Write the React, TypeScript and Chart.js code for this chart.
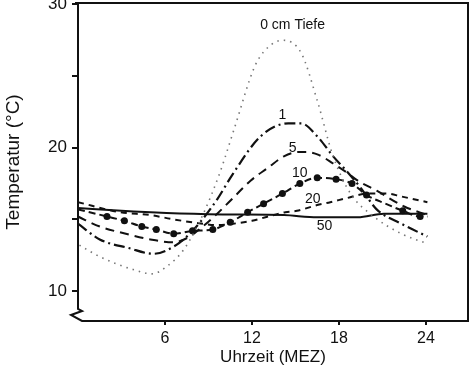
import React, { useEffect, useRef } from "react";
import { Chart, registerables } from "chart.js";

Chart.register(...registerables);

// Hours (MEZ) and temperatures (°C) per depth
const h0 = [0.1, 1.5, 3.8, 5.1, 6.1, 7.3, 8.6, 9.8, 10.8, 12.2, 13.1, 14.1, 15.4, 16.5, 17.6, 18.8, 20.4, 22.3, 24.1];
const t0 = [13.2, 12.4, 11.5, 11.2, 11.7, 12.9, 15.3, 18.3, 21.4, 25.7, 27.0, 27.5, 26.6, 23.3, 19.4, 16.8, 15.2, 14.0, 13.3];

const h1 = [0, 1.5, 3.5, 5.2, 6.6, 7.5, 8.5, 9.6, 10.7, 12.6, 14.5, 15.4, 16.5, 17.6, 18.5, 19.5, 20.6, 22.3, 24.1];
const t1 = [14.7, 13.6, 13.0, 12.6, 13.1, 13.8, 14.9, 16.4, 18.2, 20.8, 21.7, 21.7, 20.8, 19.4, 18.4, 17.2, 15.7, 14.7, 13.8];

const h5 = [0, 1.5, 3.3, 5.0, 6.6, 7.7, 8.6, 9.6, 10.8, 11.9, 13.1, 14.2, 15.2, 15.8, 16.6, 17.6, 18.5, 19.3, 20.6, 22.5, 24.1];
const t5 = [15.2, 14.5, 14.0, 13.6, 13.4, 13.8, 14.5, 15.4, 16.6, 17.7, 18.6, 19.4, 19.7, 19.7, 19.5, 18.9, 18.3, 17.7, 17.0, 15.9, 15.3];

const h10 = [0, 2.0, 3.2, 4.4, 5.4, 6.6, 7.9, 9.3, 10.5, 11.7, 12.8, 14.1, 15.3, 16.5, 17.8, 18.9, 19.9, 21.2, 22.4, 23.6, 24.1];
const t10 = [15.7, 15.2, 14.9, 14.5, 14.3, 14.0, 14.2, 14.3, 14.8, 15.5, 16.1, 16.8, 17.5, 17.9, 17.8, 17.5, 16.7, 16.1, 15.6, 15.2, 15.2];
const m10 = [0, 1, 1, 1, 1, 1, 1, 1, 1, 1, 1, 1, 1, 1, 1, 1, 1, 0, 1, 1, 0];

const h20 = [0, 2.9, 5.0, 6.6, 8.6, 9.6, 10.7, 12.0, 13.1, 14.3, 15.1, 16.5, 17.4, 18.6, 20.0, 21.3, 22.3, 24.1];
const t20 = [16.2, 15.5, 15.3, 15.0, 14.7, 14.6, 14.7, 14.9, 15.2, 15.5, 15.6, 16.0, 16.2, 16.5, 16.8, 16.8, 16.6, 16.2];

const h50 = [0, 3, 6.1, 10, 14.2, 16.5, 19.3, 21.1, 24.1];
const t50 = [15.8, 15.6, 15.45, 15.35, 15.3, 15.15, 15.15, 15.4, 15.4];

const xTicks = [6, 12, 18, 24];
const yTicks = [10, 15, 20, 25, 30];
const yLabels = [10, 20, 30];

// Curve annotations (text, hour, temperature)
const labelTexts = ["0 cm Tiefe", "1", "5", "10", "20", "50"];
const labelHours = [14.8, 14.1, 14.8, 15.3, 16.2, 17.0];
const labelTemps = [28.55, 22.3, 20.0, 18.2, 16.4, 14.5];

const FONT = "'Liberation Sans', Arial, Helvetica, sans-serif";

const pts = (h: number[], t: number[]) => h.map((x, i) => ({ x, y: t[i] }));

export default function App() {
  const ref = useRef<HTMLCanvasElement | null>(null);

  useEffect(() => {
    document.body.style.margin = "0";
    const canvas = ref.current!;

    const framePlugin = {
      id: "frame",
      afterDraw(chart: any) {
        const { ctx, chartArea } = chart;
        const { left, right, top, bottom } = chartArea;
        ctx.save();
        ctx.strokeStyle = "#111";
        ctx.lineWidth = 2;
        ctx.lineJoin = "miter";
        ctx.beginPath();
        ctx.moveTo(left - 3, top);
        ctx.lineTo(right, top);
        ctx.lineTo(right, bottom);
        ctx.lineTo(left + 4, bottom);
        ctx.lineTo(left - 7, bottom - 6);
        ctx.lineTo(left + 4, bottom - 10);
        ctx.lineTo(left, bottom - 12);
        ctx.lineTo(left, top);
        ctx.stroke();

        // curve labels
        const xs = chart.scales.x;
        const ys = chart.scales.y;
        ctx.fillStyle = "#111";
        ctx.textAlign = "center";
        ctx.textBaseline = "middle";
        ctx.font = `14px ${FONT}`;
        labelTexts.forEach((txt, i) => {
          ctx.fillText(txt, xs.getPixelForValue(labelHours[i]), ys.getPixelForValue(labelTemps[i]));
        });
        ctx.restore();
      },
    };

    const common = { fill: false, cubicInterpolationMode: "monotone" as const, pointRadius: 0 };

    const chart = new Chart(canvas, {
      type: "line",
      data: {
        datasets: [
          { ...common, label: "0", data: pts(h0, t0), borderColor: "#777", borderWidth: 1.6, borderDash: [1.5, 5] },
          { ...common, label: "1", data: pts(h1, t1), borderColor: "#111", borderWidth: 2.2, borderDash: [11, 4, 2, 4] },
          { ...common, label: "5", data: pts(h5, t5), borderColor: "#111", borderWidth: 2, borderDash: [9, 6] },
          {
            ...common,
            label: "10",
            data: pts(h10, t10),
            borderColor: "#111",
            borderWidth: 2,
            borderDash: [7, 4],
            pointRadius: m10.map((m) => (m ? 3.5 : 0)),
            pointBackgroundColor: "#111",
            pointBorderColor: "#111",
            pointBorderWidth: 0,
          },
          { ...common, label: "20", data: pts(h20, t20), borderColor: "#111", borderWidth: 2, borderDash: [6, 5] },
          { ...common, label: "50", data: pts(h50, t50), borderColor: "#111", borderWidth: 2 },
        ],
      },
      options: {
        responsive: false,
        animation: false,
        layout: { padding: { top: 3, right: 6, left: 0, bottom: 0 } },
        plugins: { legend: { display: false }, tooltip: { enabled: false } },
        scales: {
          x: {
            type: "linear",
            min: 0,
            max: 26.9,
            afterBuildTicks: (s: any) => {
              s.ticks = xTicks.map((v) => ({ value: v }));
            },
            afterFit: (s: any) => {
              s.height = 47;
              s.paddingLeft = 0;
              s.paddingRight = 0;
            },
            border: { display: false },
            grid: { drawOnChartArea: false, drawTicks: true, tickLength: 4, color: "#111", lineWidth: 2 },
            ticks: { color: "#111", font: { family: FONT, size: 16 }, padding: 4, maxRotation: 0 },
            title: { display: true, text: "Uhrzeit (MEZ)", color: "#111", font: { family: FONT, size: 17 }, padding: { top: 0, bottom: 0 } },
          },
          y: {
            type: "linear",
            min: 7.91,
            max: 30.1,
            afterBuildTicks: (s: any) => {
              s.ticks = yTicks.map((v) => ({ value: v }));
            },
            afterFit: (s: any) => {
              s.width = 78;
              s.paddingTop = 0;
              s.paddingBottom = 0;
            },
            border: { display: false },
            grid: { drawOnChartArea: false, drawTicks: true, tickLength: 6, color: "#111", lineWidth: 2 },
            ticks: {
              color: "#111",
              font: { family: FONT, size: 17 },
              padding: 5,
              callback: (v: any) => (yLabels.includes(Number(v)) ? String(v) : ""),
            },
            title: { display: true, text: "Temperatur (°C)", color: "#111", font: { family: FONT, size: 19 }, padding: { top: 2, bottom: 0 } },
          },
        },
      },
      plugins: [framePlugin],
    });

    return () => chart.destroy();
  }, []);

  return (
    <div style={{ position: "fixed", left: 0, top: 0, width: 474, height: 368, background: "#fff" }}>
      <canvas ref={ref} width={474} height={368} />
    </div>
  );
}
